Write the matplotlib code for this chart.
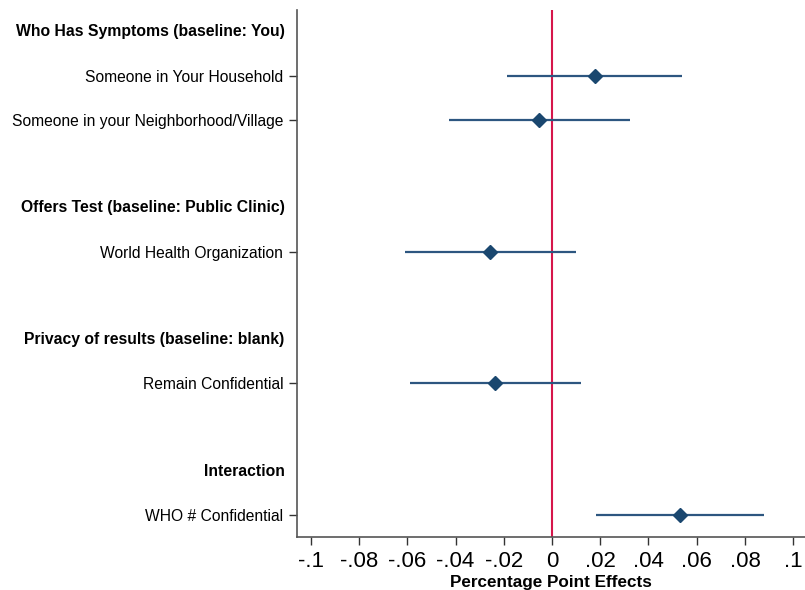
import matplotlib.pyplot as plt

# coefficient plot data
groups = ['Who Has Symptoms (baseline: You)', 'Offers Test (baseline: Public Clinic)',
          'Privacy of results (baseline: blank)', 'Interaction']
group_pos = [0, 4, 7, 10]
labels = ['Someone in Your Household', 'Someone in your Neighborhood/Village',
          'World Health Organization', 'Remain Confidential', 'WHO # Confidential']
label_pos = [1, 2, 5, 8, 11]
coef = [0.0177, -0.0052, -0.0255, -0.0235, 0.0529]
ci_lo = [-0.0185, -0.0425, -0.0610, -0.0590, 0.0181]
ci_hi = [0.0540, 0.0323, 0.0101, 0.0122, 0.0877]
xticks = [-0.1, -0.08, -0.06, -0.04, -0.02, 0, 0.02, 0.04, 0.06, 0.08, 0.1]
xticklabels = ['-.1', '-.08', '-.06', '-.04', '-.02', '0', '.02', '.04', '.06', '.08', '.1']

plt.rcParams['font.family'] = ['Liberation Sans', 'DejaVu Sans']

navy = '#1a476f'
fig = plt.figure(figsize=(8.05, 5.9), dpi=100)
ax = fig.add_axes([0.369, 0.09, 0.631, 0.893])

ax.axvline(0, color='#d6164b', lw=1.5, zorder=1)
ax.hlines(label_pos, ci_lo, ci_hi, color='#2d5680', lw=1.6, zorder=2)
ax.plot(coef, label_pos, 'D', color=navy, ms=7, zorder=3)

ax.set_ylim(11.5, -0.5)
ax.set_xlim(-0.1057, 0.1049)
ax.set_yticks(label_pos)
ax.set_yticklabels(labels, fontsize=11.25)
# group headers, no tick marks, aligned with the tick labels
for g, p in zip(groups, group_pos):
    ax.text(-0.0245, p, g, transform=ax.get_yaxis_transform(), ha='right', va='center',
            fontsize=11.35, fontweight='bold')

ax.set_xticks(xticks)
ax.set_xticklabels(xticklabels, fontsize=16)
ax.set_xlabel('Percentage Point Effects', fontsize=12.3, fontweight='bold', labelpad=2)

ax.tick_params(axis='both', direction='out', length=6, width=1, color='#333333')
ax.tick_params(axis='x', pad=4)
ax.tick_params(axis='y', pad=4)
for s in ['top', 'right']:
    ax.spines[s].set_visible(False)
for s in ['left', 'bottom']:
    ax.spines[s].set_color('#555555')
    ax.spines[s].set_linewidth(1.2)

fig.savefig('out.png', dpi=100)
